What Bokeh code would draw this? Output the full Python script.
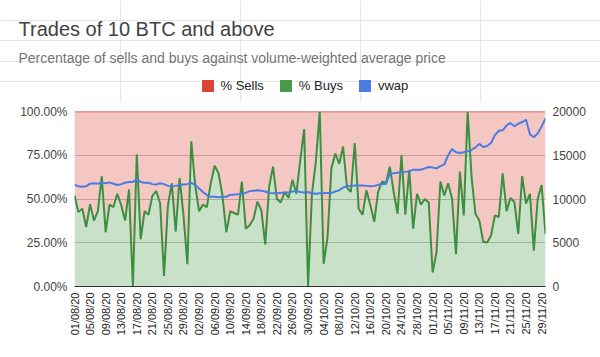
import math
import pandas as pd
from bokeh.plotting import figure
from bokeh.layouts import column
from bokeh.models import (Range1d, LinearAxis, FixedTicker, PrintfTickFormatter,
                          Label, Legend, LegendItem, ColumnDataSource)
from bokeh.embed import file_html
from bokeh.resources import INLINE

# ---------------- data ----------------
dates = pd.date_range("2020-08-01", "2020-11-30", freq="D")
date_labels = [d.strftime("%d/%m/%y") for d in dates]

buys = [52, 42.5, 44.5, 34, 47, 37.7, 43, 63, 31, 46.8,
        45.4, 53, 46.4, 37.7, 55.4, 0, 75.6, 27, 43, 41,
        51.8, 54.5, 47.4, 6, 46.4, 59, 31.4, 62, 40.6, 12.8,
        83, 58, 43, 46.8, 45.4, 59, 69, 64.7, 52, 31,
        43, 42, 41, 60, 33, 35, 38.7, 48.5, 43.5, 24,
        57, 68.5, 50, 48, 54, 50.6, 61, 53, 72, 90,
        0, 53, 71, 100, 13, 28, 67.5, 76, 70, 80,
        56.5, 54, 82, 44.5, 41, 55, 46.4, 37, 54, 60,
        59, 68.5, 54, 41.6, 75, 41, 66.6, 33, 53, 46.8,
        50, 48, 8, 19.5, 60, 52, 59, 50, 18.5, 65.6,
        40.6, 100, 62.7, 41.6, 37.7, 25.6, 25.2, 29, 40.6, 39.7,
        64.7, 43, 50.6, 48.3, 30, 63, 47.4, 53, 20.5, 50,
        58, 30]
# % sells is the complement of % buys
sells = [round(100 - b, 1) for b in buys]

vwap = [11650, 11450, 11400, 11450, 11750, 11800, 11750, 11900, 11800, 11900,
        11750, 11600, 11700, 11850, 11950, 11950, 12250, 11950, 11850, 11850,
        11700, 11650, 11800, 11700, 11500, 11450, 11500, 11600, 11650, 11700,
        11850, 11600, 11200, 10800, 10450, 10250, 10250, 10200, 10250, 10250,
        10500, 10500, 10550, 10600, 10700, 10900, 10950, 11000, 10950, 10850,
        10700, 10650, 10650, 10700, 10750, 10750, 10850, 10900, 10800, 10750,
        10800, 10650, 10600, 10650, 10650, 10700, 10700, 10850, 11000, 11300,
        11450, 11500, 11550, 11550, 11550, 11500, 11450, 11500, 11600, 11750,
        11700, 12900, 12950, 13000, 13050, 13100, 13150, 13350, 13350, 13350,
        13500, 13650, 13600, 13500, 13750, 13950, 15000, 15700, 15350, 15250,
        15350, 15450, 15600, 15900, 16300, 15950, 16050, 16400, 17300, 17800,
        17850, 18400, 18700, 18300, 18600, 18800, 19050, 17400, 17050, 17500,
        18300, 19200]

series_names = ["% Sells", "% Buys", "vwap"]
pct_ticks = [0, 25, 50, 75, 100]
vwap_ticks = [0, 5000, 10000, 15000, 20000]

# ---------------- style ----------------
RED = "#db4437"
GREEN = "#4b9a4b"
GREEN_LINE = "#3d8f40"
BLUE = "#4a7be3"
FONT = "Liberation Sans"
HEAD_H = 101          # header strip height
TOP_PAD = 10          # main figure border above its frame (frame top at 111)

# ---------------- header figure (title, subtitle, legend) ----------------
head = figure(width=600, height=HEAD_H, output_backend="svg", toolbar_location=None,
              x_range=Range1d(0, 1), y_range=Range1d(0, 1),
              x_axis_location=None, y_axis_location=None,
              min_border_left=0, min_border_right=0, min_border_top=0,
              min_border_bottom=0, frame_align=False)
head.outline_line_color = None
head.background_fill_color = "white"
head.border_fill_color = "white"

head.add_layout(Label(x=18, y=HEAD_H - 28.5, x_units="screen", y_units="screen",
                      text="Trades of 10 BTC and above", text_font=FONT,
                      text_font_size="20px", text_color="#424242",
                      text_baseline="alphabetic"))
head.add_layout(Label(x=18, y=HEAD_H - 57, x_units="screen", y_units="screen",
                      text="Percentage of sells and buys against volume-weighted average price",
                      text_font=FONT, text_font_size="14px", text_color="#757575",
                      text_baseline="alphabetic"))

nan = float("nan")
swatches = []
for col in (RED, GREEN, BLUE):
    swatches.append(head.quad(left=[nan], right=[nan], top=[nan], bottom=[nan],
                              fill_color=col, line_color=None))
legend = Legend(items=[LegendItem(label=nm, renderers=[r])
                       for nm, r in zip(series_names, swatches)],
                location=(199.5, HEAD_H - 92.5), orientation="horizontal",
                glyph_width=15, glyph_height=15, label_height=15,
                label_standoff=6, spacing=14, padding=0, margin=0,
                border_line_color=None, background_fill_alpha=0,
                label_text_font=FONT, label_text_font_size="13px",
                label_text_color="#222222")
head.add_layout(legend)

# ---------------- main chart ----------------
n = len(dates)
x = list(range(n))
top = [b + s for b, s in zip(buys, sells)]
src = ColumnDataSource(dict(x=x, buys=buys, top=top, vwap=vwap))

p = figure(width=600, height=357 - HEAD_H, output_backend="svg", toolbar_location=None,
           x_range=Range1d(0, n - 1), y_range=Range1d(0, 100),
           min_border_left=74, min_border_right=55, min_border_top=TOP_PAD,
           min_border_bottom=71, frame_align=False)
p.outline_line_color = None
p.background_fill_color = "white"
p.border_fill_color = "white"

p.extra_y_ranges = {"vwap": Range1d(0, 20000)}

p.varea(x="x", y1=0, y2="buys", source=src, fill_color=GREEN, fill_alpha=0.3)
p.varea(x="x", y1="buys", y2="top", source=src, fill_color=RED, fill_alpha=0.3)
p.line("x", "top", source=src, line_color=RED, line_width=1.5)
p.line("x", "buys", source=src, line_color=GREEN_LINE, line_width=2)
p.line("x", "vwap", source=src, y_range_name="vwap", line_color=BLUE, line_width=2)

left = p.left[0]
left.ticker = FixedTicker(ticks=pct_ticks)
left.formatter = PrintfTickFormatter(format="%.2f%%")
right = LinearAxis(y_range_name="vwap", ticker=FixedTicker(ticks=vwap_ticks))
p.add_layout(right, "right")
for ax in (left, right):
    ax.axis_line_color = None
    ax.major_tick_line_color = None
    ax.minor_tick_line_color = None
    ax.major_tick_out = 0
    ax.major_label_standoff = 7
    ax.major_label_text_font = FONT
    ax.major_label_text_font_size = "12px"
    ax.major_label_text_color = "#444444"

xa = p.below[0]
tick_idx = list(range(0, n, 4))
xa.ticker = FixedTicker(ticks=tick_idx)
xa.major_label_overrides = {i: date_labels[i] for i in tick_idx}
xa.major_label_orientation = math.pi / 2
xa.major_tick_line_color = None
xa.minor_tick_line_color = None
xa.major_tick_out = 0
xa.major_label_standoff = 6
xa.axis_line_color = "#333333"
xa.major_label_text_font = FONT
xa.major_label_text_font_size = "11px"
xa.major_label_text_color = "#222222"

p.xgrid.visible = False
p.ygrid.ticker = FixedTicker(ticks=pct_ticks)
p.ygrid.grid_line_color = "#c0c0c0"

layout = column(head, p, spacing=0)
open("out.html", "w").write(file_html(layout, INLINE))
